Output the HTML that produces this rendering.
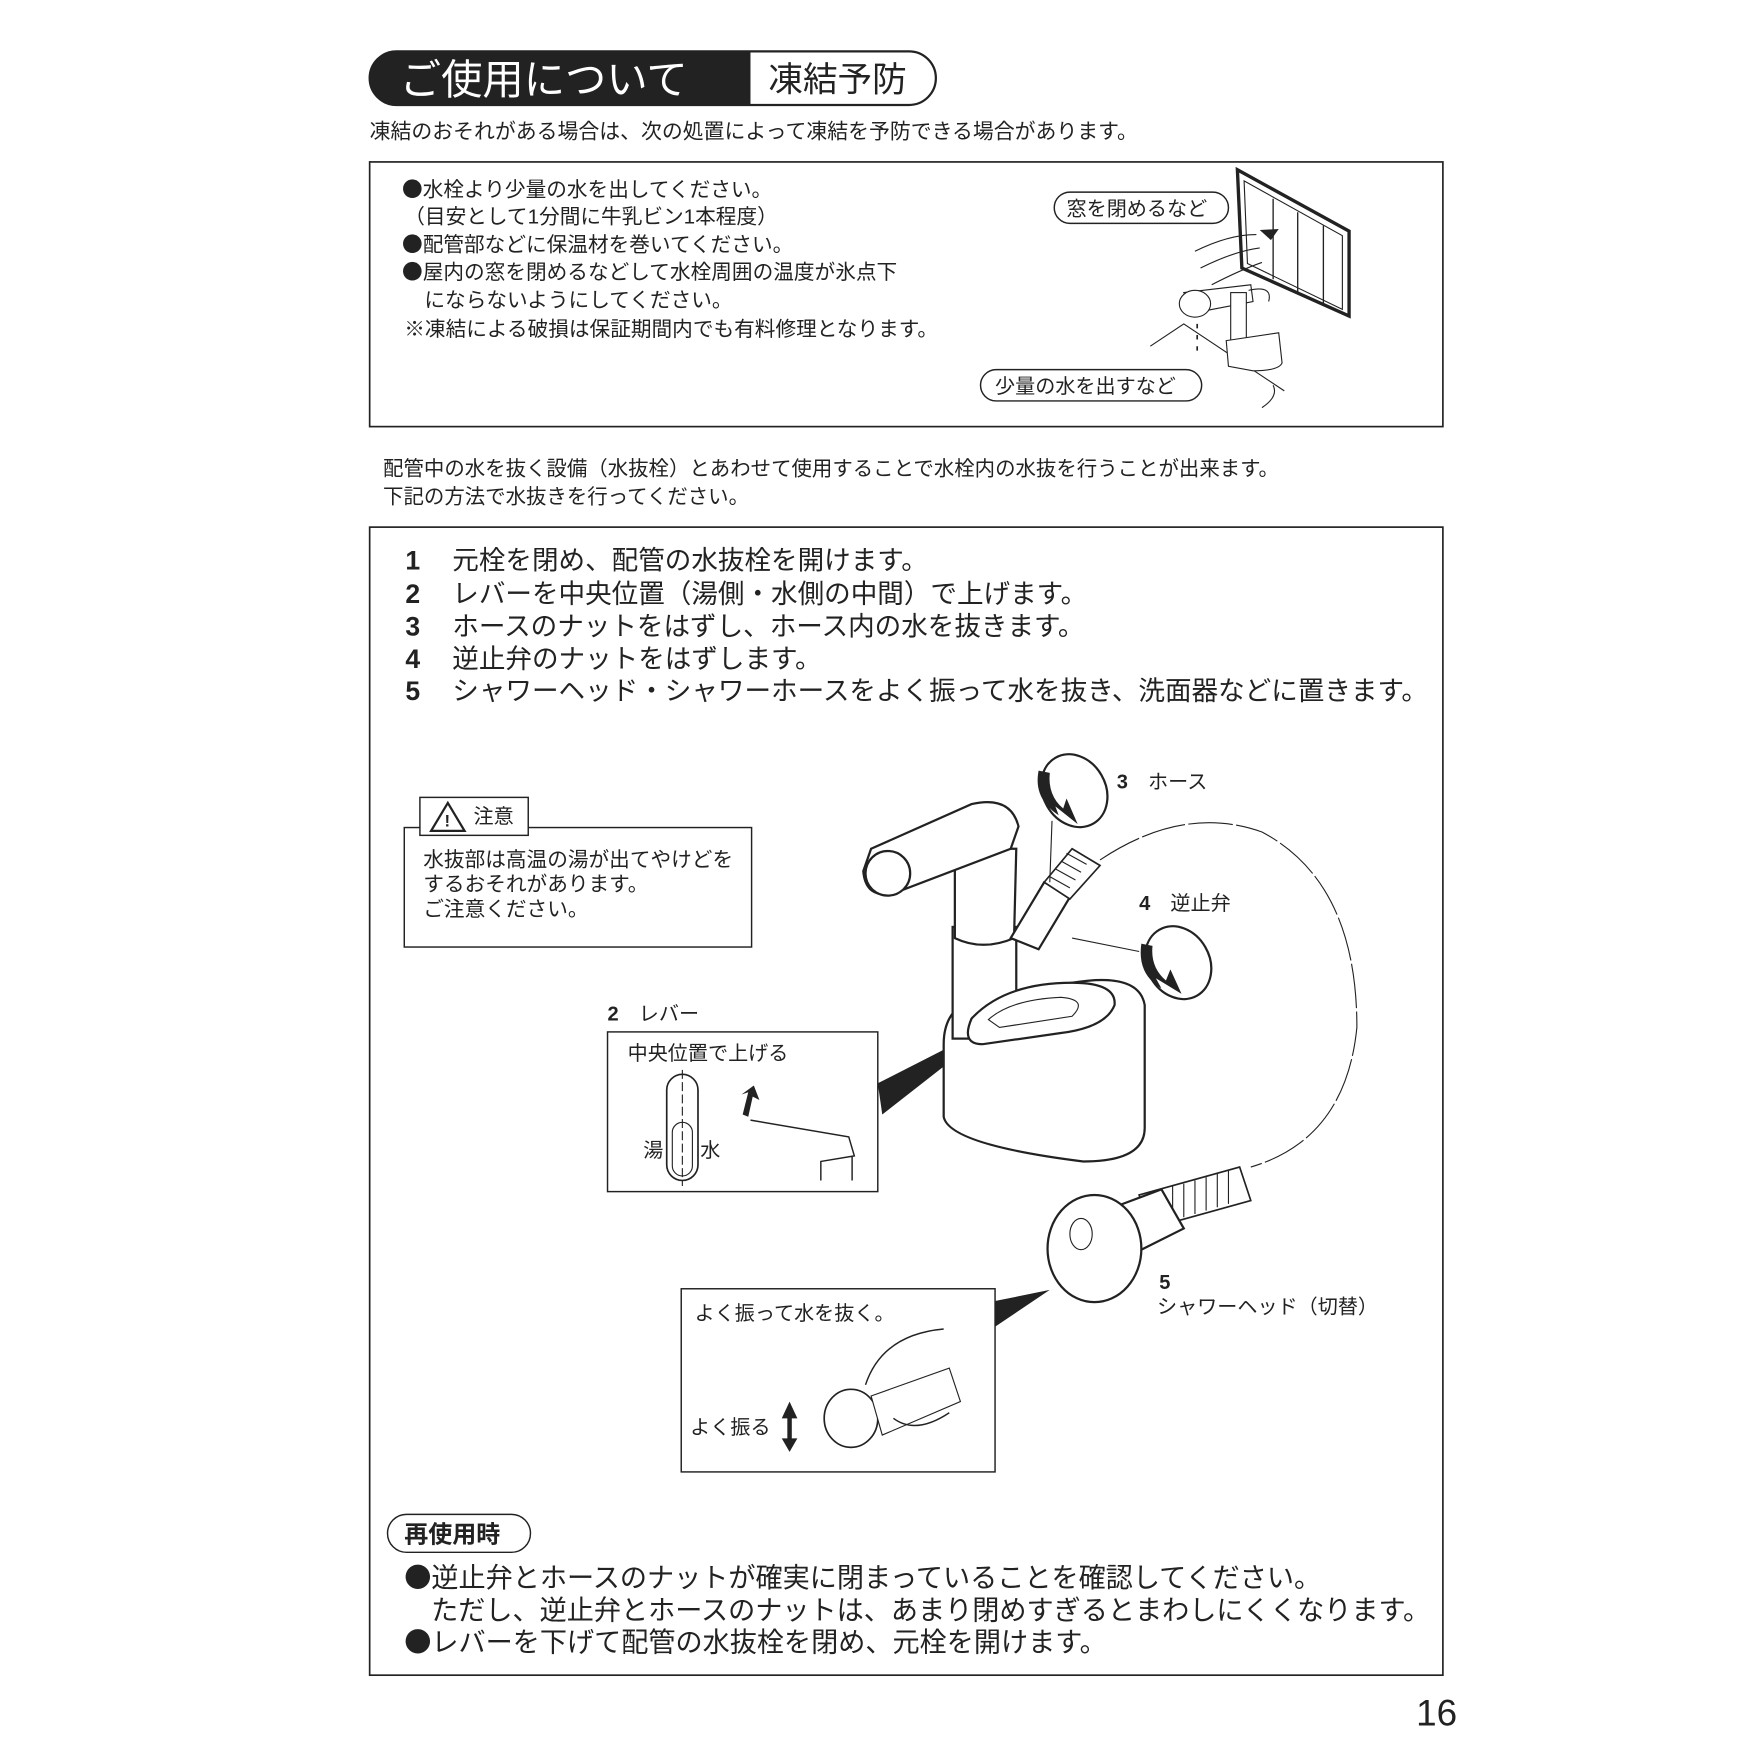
<!DOCTYPE html>
<html><head><meta charset="utf-8"><style>
html,body{margin:0;padding:0;background:#fff;}
svg{display:block;}
text{font-family:"Liberation Sans","Noto Sans CJK JP",sans-serif;fill:#222;}
.b{font-family:"Noto Sans CJK JP",sans-serif;}
</style></head><body>
<svg width="1750" height="1750" viewBox="0 0 1567 1567" xmlns="http://www.w3.org/2000/svg">
<!-- header pill -->
<rect x="331" y="46" width="507" height="48" rx="24" fill="#fff" stroke="#222" stroke-width="2"/>
<path d="M355,46 H672 V94 H355 A24,24 0 0 1 355,46 Z" fill="#222"/>
<text x="358" y="84" font-size="37" style="fill:#fff">ご使用について</text>
<text x="688" y="82" font-size="31">凍結予防</text>
<text x="331" y="124" font-size="18.7">凍結のおそれがある場合は、次の処置によって凍結を予防できる場合があります。</text>

<!-- box 1 -->
<rect x="331" y="145" width="961" height="237" fill="none" stroke="#222" stroke-width="1.5"/>
<g font-size="18.5">
<text x="360" y="176"><tspan class="b">●</tspan>水栓より少量の水を出してください。</text>
<text x="362" y="200">（目安として1分間に牛乳ビン1本程度）</text>
<text x="360" y="225"><tspan class="b">●</tspan>配管部などに保温材を巻いてください。</text>
<text x="360" y="250"><tspan class="b">●</tspan>屋内の窓を閉めるなどして水栓周囲の温度が氷点下</text>
<text x="380" y="275">にならないようにしてください。</text>
<text x="362" y="301">※凍結による破損は保証期間内でも有料修理となります。</text>
</g>
<rect x="944" y="172" width="156" height="28" rx="14" fill="#fff" stroke="#222" stroke-width="1.3"/>
<text x="955" y="193" font-size="18">窓を閉めるなど</text>
<rect x="878" y="331" width="198" height="28" rx="14" fill="#fff" stroke="#222" stroke-width="1.3"/>
<text x="891" y="352" font-size="18">少量の水を出すなど</text>
<!-- window -->
<path d="M1108,152 L1208,207 L1208,283 L1112,240 Z" fill="none" stroke="#222" stroke-width="3"/>
<path d="M1114,162 L1202,211 L1202,277 L1117,236 Z" fill="none" stroke="#222" stroke-width="1"/>
<path d="M1140,178 V250 M1162,190 V262 M1185,202 V272" stroke="#222" stroke-width="1.2"/>
<path d="M1128,206 L1145,205 L1138,215 Z" fill="#222"/>
<path d="M1070,225 Q1100,210 1125,210 M1075,240 Q1105,225 1128,222 M1085,255 Q1110,242 1130,235" fill="none" stroke="#222"/>
<!-- small faucet -->
<path d="M1030,310 L1060,290 L1150,350 M1130,365 Q1145,355 1140,345" fill="none" stroke="#222" stroke-width="1"/>
<path d="M1060,262 L1120,255 L1122,270 L1070,280 Z" fill="#fff" stroke="#222"/>
<ellipse cx="1070" cy="272" rx="14" ry="12" fill="#fff" stroke="#222"/>
<rect x="1102" y="262" width="14" height="48" fill="#fff" stroke="#222"/>
<path d="M1098,305 L1145,298 L1148,325 Q1145,332 1122,332 L1100,328 Z" fill="#fff" stroke="#222"/>
<path d="M1118,260 Q1140,255 1136,270" fill="none" stroke="#222"/>
<path d="M1072,290 v4 M1072,300 v4 M1072,310 v4" stroke="#222" stroke-width="1.5"/>

<text x="343" y="426" font-size="18.3">配管中の水を抜く設備（水抜栓）とあわせて使用することで水栓内の水抜を行うことが出来ます。</text>
<text x="343" y="451" font-size="18.3">下記の方法で水抜きを行ってください。</text>

<!-- box 2 -->
<rect x="331" y="472" width="961" height="1028" fill="none" stroke="#222" stroke-width="1.5"/>
<g font-size="23.8">
<text x="363" y="510" font-weight="bold">1</text><text x="405" y="510">元栓を閉め、配管の水抜栓を開けます。</text>
<text x="363" y="540" font-weight="bold">2</text><text x="405" y="540">レバーを中央位置（湯側・水側の中間）で上げます。</text>
<text x="363" y="569" font-weight="bold">3</text><text x="405" y="569">ホースのナットをはずし、ホース内の水を抜きます。</text>
<text x="363" y="598" font-weight="bold">4</text><text x="405" y="598">逆止弁のナットをはずします。</text>
<text x="363" y="627" font-weight="bold">5</text><text x="405" y="627">シャワーヘッド・シャワーホースをよく振って水を抜き、洗面器などに置きます。</text>
</g>

<!-- caution -->
<rect x="362" y="741" width="311" height="107" fill="#fff" stroke="#222" stroke-width="1.3"/>
<rect x="376" y="714" width="97" height="34" fill="#fff" stroke="#222" stroke-width="1.3"/>
<path d="M401,719 L416,744 L386,744 Z" fill="none" stroke="#222" stroke-width="2"/>
<text x="398" y="740" font-size="15" font-weight="bold">!</text>
<text x="424" y="737" font-size="18">注意</text>
<g font-size="18.5"><text x="379" y="776">水抜部は高温の湯が出てやけどを</text>
<text x="379" y="798">するおそれがあります。</text>
<text x="379" y="820">ご注意ください。</text></g>

<!-- labels -->
<text x="1000" y="706" font-size="18"><tspan font-weight="bold">3</tspan>　ホース</text>
<text x="1020" y="815" font-size="18"><tspan font-weight="bold">4</tspan>　逆止弁</text>
<text x="544" y="914" font-size="18"><tspan font-weight="bold">2</tspan>　レバー</text>
<text x="1038" y="1154" font-size="18" font-weight="bold">5</text>
<text x="1036" y="1176" font-size="18">シャワーヘッド（切替）</text>

<!-- hose dashed -->
<path d="M985,770 Q1060,720 1130,745 Q1215,790 1215,920 Q1205,1020 1120,1045" fill="none" stroke="#222" stroke-width="1" stroke-dasharray="40,3"/>
<!-- faucet -->
<path d="M845,935 L845,1000 Q850,1025 970,1040 Q1025,1040 1025,1010 L1025,900 Q1020,870 960,880 L870,895 Q845,905 845,935 Z" fill="#fff" stroke="#222" stroke-width="2"/>
<rect x="853" y="830" width="57" height="100" fill="#fff" stroke="#222" stroke-width="2"/>
<path d="M855,760 L855,840 Q880,852 908,840 L910,760 Z" fill="#fff" stroke="#222" stroke-width="2"/>
<path d="M780,760 L870,720 Q905,712 912,740 L905,760 L800,800 Q775,805 773,780 Z" fill="#fff" stroke="#222" stroke-width="2"/>
<ellipse cx="795" cy="782" rx="20" ry="20" fill="#fff" stroke="#222" stroke-width="2"/>
<path d="M905,840 L935,790 L960,800 L930,850 Z" fill="#fff" stroke="#222" stroke-width="2"/>
<path d="M935,790 L960,760 L985,775 L958,805 Z" fill="#fff" stroke="#222" stroke-width="1.5"/>
<path d="M940,785 l18,10 M945,778 l18,10 M950,771 l18,10 M955,764 l18,10" stroke="#222"/>
<path d="M870,912 Q900,880 960,880 Q1000,880 998,900 Q990,920 950,925 L880,935 Q860,935 870,912 Z" fill="#fff" stroke="#222" stroke-width="2"/>
<path d="M885,913 Q905,895 950,893 Q975,895 960,910 L895,920 Z" fill="none" stroke="#222"/>
<!-- arrows -->
<ellipse cx="962" cy="708" rx="28" ry="34" transform="rotate(-30 962 708)" fill="#fff" stroke="#222" stroke-width="2"/>
<path d="M930,690 Q925,715 948,730 L945,722 L965,738 L955,715 L952,724 Q938,712 940,692 Z" fill="#222"/>
<ellipse cx="1055" cy="862" rx="28" ry="34" transform="rotate(-30 1055 862)" fill="#fff" stroke="#222" stroke-width="2"/>
<path d="M1022,845 Q1018,872 1040,885 L1035,876 L1058,890 L1048,868 L1044,878 Q1030,866 1032,847 Z" fill="#222"/>
<path d="M942,735 L940,790 M960,840 L1020,852" stroke="#222"/>
<!-- shower head -->
<path d="M1020,1070 L1110,1045 L1120,1075 L1030,1100 Z" fill="#fff" stroke="#222" stroke-width="1.5"/>
<path d="M1050,1062 v30 M1060,1060 v30 M1070,1057 v30 M1080,1054 v30 M1090,1051 v30 M1100,1048 v30" stroke="#222"/>
<path d="M1000,1080 L1040,1065 L1060,1100 L1020,1120 Z" fill="#fff" stroke="#222" stroke-width="2"/>
<ellipse cx="980" cy="1118" rx="42" ry="48" fill="#fff" stroke="#222" stroke-width="2"/>
<ellipse cx="968" cy="1105" rx="10" ry="14" fill="none" stroke="#222"/>
<!-- lever box -->
<rect x="544" y="924" width="242" height="143" fill="#fff" stroke="#222" stroke-width="1.3"/>
<path d="M786,970 L845,940 L845,955 L790,998 Z" fill="#222"/>
<text x="562" y="949" font-size="18">中央位置で上げる</text>
<rect x="597" y="962" width="28" height="95" rx="14" fill="none" stroke="#222" stroke-width="1.5"/>
<rect x="602" y="1005" width="18" height="48" rx="9" fill="none" stroke="#222"/>
<path d="M611,958 V1062" stroke="#222" stroke-dasharray="8,3"/>
<text x="576" y="1036" font-size="18">湯</text><text x="627" y="1036" font-size="18">水</text>
<path d="M665,998 L670,978 L664,980 L675,972 L680,985 L674,982 L670,1000 Z" fill="#222"/>
<path d="M672,1003 L760,1018 L765,1035 L735,1040 L735,1057 M763,1035 V1057" fill="none" stroke="#222" stroke-width="1.3"/>
<!-- shake box -->
<rect x="610" y="1154" width="281" height="164" fill="#fff" stroke="#222" stroke-width="1.3"/>
<path d="M891,1165 L940,1155 L891,1188 Z" fill="#222"/>
<text x="622" y="1182" font-size="18">よく振って水を抜く。</text>
<text x="618" y="1284" font-size="18">よく振る</text>
<path d="M707,1255 L700,1270 L705,1270 L705,1288 L700,1288 L707,1300 L714,1288 L709,1288 L709,1270 L714,1270 Z" fill="#222"/>
<ellipse cx="762" cy="1270" rx="24" ry="26" fill="#fff" stroke="#222" stroke-width="1.5"/>
<path d="M780,1250 L850,1225 L860,1255 L790,1285 Z" fill="#fff" stroke="#222"/>
<path d="M775,1240 Q790,1195 845,1190 M800,1270 Q820,1285 850,1265" fill="none" stroke="#222" stroke-width="1.3"/>
<!-- reuse -->
<rect x="347" y="1356" width="128" height="34" rx="17" fill="#fff" stroke="#222" stroke-width="1.3"/>
<text x="362" y="1381" font-size="21.5" font-weight="bold">再使用時</text>
<g font-size="24.3">
<text x="362" y="1421"><tspan class="b">●</tspan>逆止弁とホースのナットが確実に閉まっていることを確認してください。</text>
<text x="386" y="1450">ただし、逆止弁とホースのナットは、あまり閉めすぎるとまわしにくくなります。</text>
<text x="362" y="1479"><tspan class="b">●</tspan>レバーを下げて配管の水抜栓を閉め、元栓を開けます。</text>
</g>
<text x="1268" y="1545" font-size="33">16</text>
</svg>
</body></html>
